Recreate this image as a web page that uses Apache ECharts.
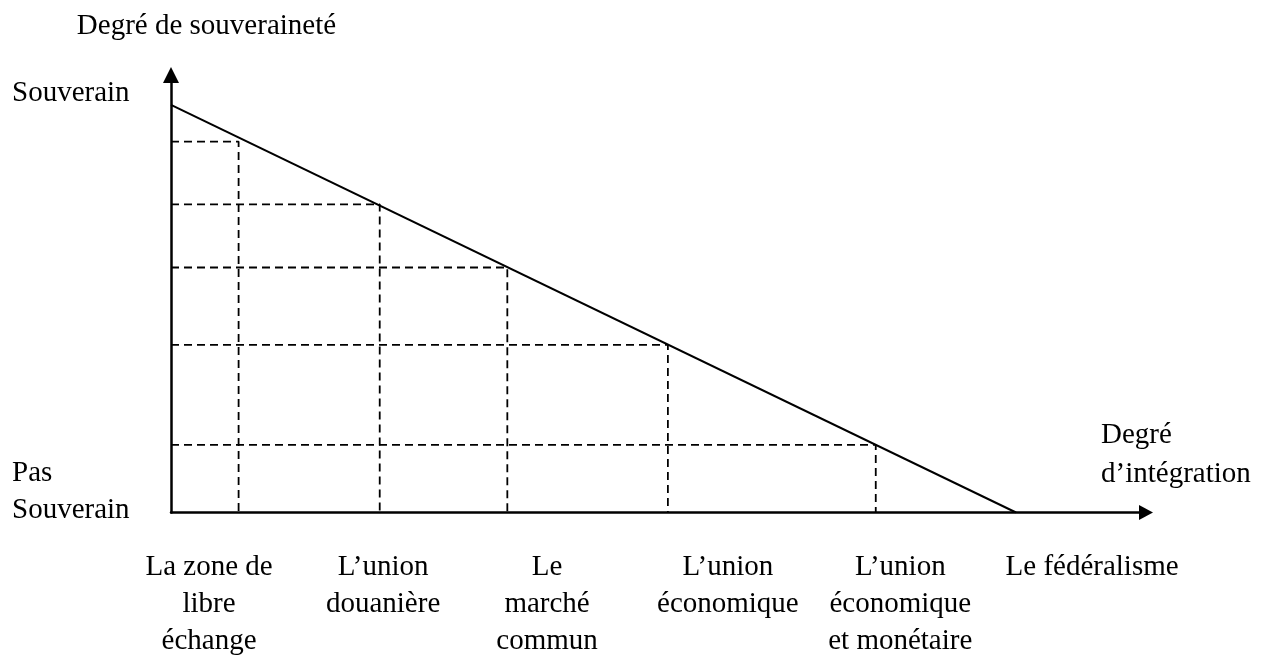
<!DOCTYPE html>
<html>
<head>
<meta charset="utf-8">
<script src="https://cdn.jsdelivr.net/npm/echarts@6/dist/echarts.min.js"></script>
<style>
html,body{margin:0;padding:0;background:#fff;}
#chart{width:1263px;height:660px;}
</style>
</head>
<body>
<div id="chart"></div>
<script>
// ---- data (integration degree 0..100 = fédéralisme, sovereignty 0..100 = souverain) ----
const sovereigntyLineX = [0, 100];
const sovereigntyLineY = [100, 0];
const stageX = [8.0, 24.7, 39.8, 58.8, 83.4];
const stageY = [91.0, 75.6, 60.1, 41.1, 16.6];
const stageNames = [
  'La zone de\nlibre\néchange',
  'L\u2019union\ndouanière',
  'Le\nmarché\ncommun',
  'L\u2019union\néconomique',
  'L\u2019union\néconomique\net monétaire',
  'Le fédéralisme'
];
const stageLabelAt = [4.5, 25.1, 44.5, 65.9, 86.3, 109.0];
const sovLabels = ['Pas\nSouverain', 'Souverain'];
const sovLabelAt = [5.0, 102.7];
const xName = 'Degré\nd\u2019intégration';
const yName = 'Degré de souveraineté';

const FONT = "'Liberation Serif', 'Times New Roman', serif";
const chart = echarts.init(document.getElementById('chart'), null, {renderer: 'canvas'});

const series = [{
  type: 'line',
  data: sovereigntyLineX.map((x, i) => [x, sovereigntyLineY[i]]),
  symbol: 'none',
  silent: true,
  lineStyle: {color: '#000', width: 2},
  z: 3
}];
stageX.forEach((x, i) => {
  series.push({
    type: 'line',
    data: [[0, stageY[i]], [x, stageY[i]], [x, 0]],
    symbol: 'none',
    silent: true,
    lineStyle: {color: '#000', width: 1.8, type: [8, 5]},
    z: 2
  });
});

chart.setOption({
  animation: false,
  backgroundColor: '#fff',
  grid: {left: 171, right: 117, top: 75, bottom: 146, containLabel: false},
  xAxis: {
    type: 'value',
    min: 0,
    max: 115.38,
    name: xName,
    nameLocation: 'end',
    nameGap: -45,
    nameTextStyle: {
      fontFamily: FONT, fontSize: 29, color: '#000', align: 'left',
      verticalAlign: 'bottom', lineHeight: 39, padding: [0, 0, 19, 0]
    },
    axisLine: {
      show: true, onZero: false,
      symbol: ['none', 'triangle'], symbolSize: [15, 14],
      lineStyle: {color: '#000', width: 2.5}
    },
    axisTick: {show: false},
    splitLine: {show: false},
    axisLabel: {
      customValues: stageLabelAt,
      formatter: (v) => {
        const i = stageLabelAt.findIndex(p => Math.abs(p - v) < 1e-6);
        return i >= 0 ? stageNames[i] : '';
      },
      fontFamily: FONT, fontSize: 29, color: '#000',
      lineHeight: 37, margin: 36.5, align: 'center', verticalAlign: 'top'
    }
  },
  yAxis: {
    type: 'value',
    min: 0,
    max: 107.33,
    name: yName,
    nameLocation: 'end',
    nameGap: 31.5,
    nameTextStyle: {
      fontFamily: FONT, fontSize: 29, color: '#000', align: 'center',
      verticalAlign: 'bottom', lineHeight: 35, padding: [0, 0, 0, 71]
    },
    axisLine: {
      show: true, onZero: false,
      symbol: ['none', 'triangle'], symbolSize: [16, 16],
      lineStyle: {color: '#000', width: 2.5}
    },
    axisTick: {show: false},
    splitLine: {show: false},
    axisLabel: {
      customValues: sovLabelAt,
      formatter: (v) => {
        const i = sovLabelAt.findIndex(p => Math.abs(p - v) < 1e-6);
        return i >= 0 ? sovLabels[i] : '';
      },
      fontFamily: FONT, fontSize: 29, color: '#000',
      lineHeight: 37, margin: 159, align: 'left', verticalAlign: 'middle'
    }
  },
  series: series
});
</script>
</body>
</html>
